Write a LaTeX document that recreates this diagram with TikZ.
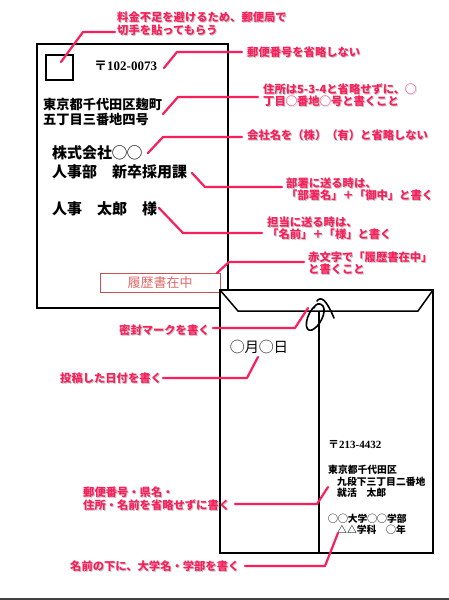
\documentclass[tikz,border=0pt]{standalone}
\usepackage{fontspec}
\newfontfamily\jp{Noto Sans CJK JP}
\newfontfamily\lserif{Liberation Serif}
\definecolor{annpink}{RGB}{250,30,90}
\definecolor{redbox}{RGB}{200,80,80}
\definecolor{redtext}{RGB}{225,105,105}
\tikzset{
  env/.style={draw=black, line width=1.5pt, fill=white},
  conn/.style={draw=annpink, line width=2.2pt, line cap=round, line join=round},
  ann/.style={anchor=west, inner sep=0pt, align=left, text=annpink, font=\jp\bfseries\fontsize{11.3}{12.5}\selectfont},
  annsh/.style={anchor=west, inner sep=0pt, align=left, text=black!22, font=\jp\bfseries\fontsize{11.3}{12.5}\selectfont},
  frontbig/.style={anchor=west, inner sep=0pt, align=left, font=\jp\bfseries\fontsize{15}{19}\selectfont},
  frontmid/.style={anchor=west, inner sep=0pt, align=left, font=\jp\bfseries\fontsize{13.2}{15}\selectfont},
  backsmall/.style={anchor=west, inner sep=0pt, align=left, font=\jp\bfseries\fontsize{9.8}{11.3}\selectfont},
}
\newcommand{\annot}[4]{%
  \node[annsh] (#1s) at (#2+1,#3+1) {#4};
  \node[ann] (#1) at (#2,#3) {#4};}
\begin{document}
\begin{tikzpicture}[x=1pt,y=-1pt]
\useasboundingbox[fill=white] (0,0) rectangle (449,600);
% front envelope
\draw[env] (37,44) rectangle (228,308);
\node[draw=black, line width=1.5pt, minimum width=27pt, minimum height=25pt, inner sep=0pt] (stamp) at (59.5,67.5) {};
\node[anchor=west, inner sep=0pt, font=\jp\bfseries\fontsize{13}{15}\selectfont] (zip1) at (94,66) {〒{\lserif\bfseries 102-0073}};
\node[frontmid] (addr1) at (43,111.5) {東京都千代田区麹町\\五丁目三番地四号};
\node[frontbig] (comp) at (52,162.5) {株式会社◯◯\\人事部　新卒採用課};
\node[frontbig] (name1) at (52,209) {人事　太郎　様};
\node[draw=redbox, line width=1pt, minimum width=120pt, minimum height=19pt, inner sep=0pt, text=redtext, font=\jp\fontsize{13}{15}\selectfont] (rireki) at (160,282.5) {履歴書在中};
% back envelope
\draw[env] (220,290) rectangle (433,553);
\draw[line width=1.5pt, line join=round] (220,290) -- (238,311) -- (418,311) -- (433,290);
\draw[line width=1.5pt] (319,311) -- (319,553);
% seal mark
\draw[line width=1.6pt, line cap=round] (316,305) .. controls (305,314) and (303,333) .. (312,330) .. controls (319,327) and (327,313) .. (323,306) .. controls (320,302) and (315,304) .. (314,308);
\draw[line width=1.6pt, line cap=round] (317,301) .. controls (321,296) and (326,299) .. (334,318);
\node[anchor=west, inner sep=0pt, font=\jp\fontsize{14.5}{16}\selectfont] (date) at (230,347) {◯月◯日};
\node[anchor=west, inner sep=0pt, font=\jp\bfseries\fontsize{11}{13}\selectfont] (zip2) at (328,445) {〒{\lserif\bfseries 213-4432}};
\node[backsmall] (addr2) at (328,470) {東京都千代田区};
\node[backsmall] (addr3) at (337,487.5) {九段下三丁目二番地\\就活　太郎};
\node[backsmall] (univ) at (328,519) {◯◯大学◯◯学部};
\node[backsmall] (dept) at (337,529.5) {△△学科　◯年};
% bottom line
\draw[line width=1.3pt, black!75] (0,599) -- (449,599);
% annotations
\annot{a1}{117}{23.5}{料金不足を避けるため、郵便局で\\切手を貼ってもらう}
\annot{a2}{247}{52}{郵便番号を省略しない}
\annot{a3}{263}{95}{住所は5-3-4と省略せずに、◯\\丁目◯番地◯号と書くこと}
\annot{a4}{247}{135}{会社名を（株）（有）と省略しない}
\annot{a5}{286}{189}{部署に送る時は、\\「部署名」＋「御中」と書く}
\annot{a6}{267}{228}{担当に送る時は、\\「名前」＋「様」と書く}
\annot{a7}{308}{263}{赤文字で「履歴書在中」\\と書くこと}
\annot{a8}{119}{330}{密封マークを書く}
\annot{a9}{60}{378}{投稿した日付を書く}
\annot{a10}{83}{498.5}{郵便番号・県名・\\住所・名前を省略せずに書く}
\annot{a11}{70}{566}{名前の下に、大学名・学部を書く}
% connector points
\coordinate (c1a) at (61,62);   \coordinate (c1b) at (83,32);   \coordinate (c1c) at (115,32);
\coordinate (c2a) at (164,68);  \coordinate (c2b) at (177,52);  \coordinate (c2c) at (242,52);
\coordinate (c3a) at (163,114); \coordinate (c3b) at (178,97);  \coordinate (c3c) at (258,97);
\coordinate (c4a) at (148,153); \coordinate (c4b) at (163,137); \coordinate (c4c) at (242,137);
\coordinate (c5a) at (192,173); \coordinate (c5b) at (205,187); \coordinate (c5c) at (282,187);
\coordinate (c6a) at (159,208); \coordinate (c6b) at (183,233); \coordinate (c6c) at (262,233);
\coordinate (c7a) at (217,273); \coordinate (c7b) at (229,262); \coordinate (c7c) at (304,262);
\coordinate (c8a) at (308,308); \coordinate (c8b) at (295,328); \coordinate (c8c) at (213,328);
\coordinate (c9a) at (258,357); \coordinate (c9b) at (247,378); \coordinate (c9c) at (163,378);
\coordinate (c10a) at (328,487); \coordinate (c10b) at (317,504); \coordinate (c10c) at (235,504);
\coordinate (c11a) at (338,533); \coordinate (c11b) at (325,566); \coordinate (c11c) at (245,566);
\foreach \i in {1,...,11} {\draw[conn] (c\i a) -- (c\i b) -- (c\i c);}
\end{tikzpicture}
\end{document}
